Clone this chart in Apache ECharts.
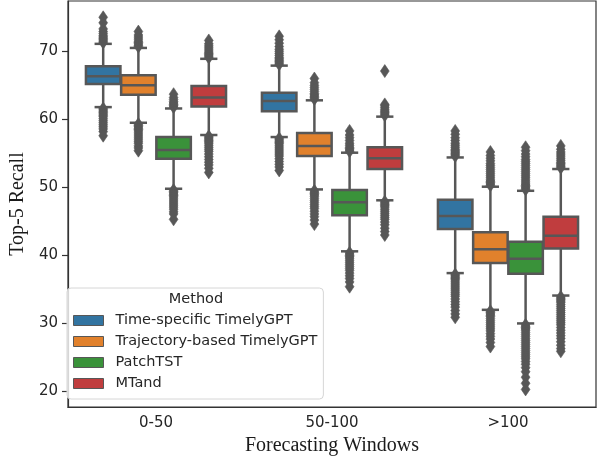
<!DOCTYPE html>
<html>
<head>
<meta charset="utf-8">
<script src="https://cdn.jsdelivr.net/npm/echarts@6/dist/echarts.min.js"></script>
<style>
  html, body { margin: 0; padding: 0; background: #fff; }
  #chart { width: 598px; height: 461px; }
</style>
</head>
<body>
<div id="chart"></div>
<script>
const windows = ['0-50', '50-100', '>100'];
const methods = ['Time-specific TimelyGPT', 'Trajectory-based TimelyGPT', 'PatchTST', 'MTand'];
const yTicks = [20, 30, 40, 50, 60, 70];

// [lower whisker, Q1, median, Q3, upper whisker] per window
const timeSpecificStats = [
  [61.8, 65.2, 66.35, 67.8, 71.1],
  [57.4, 61.2, 62.7, 63.9, 67.9],
  [37.4, 43.9, 45.8, 48.2, 54.4]
];
const trajectoryStats = [
  [59.5, 63.6, 65.0, 66.5, 70.5],
  [49.7, 54.6, 56.1, 58.0, 62.8],
  [32.0, 38.9, 40.9, 43.4, 50.1]
];
const patchTSTStats = [
  [49.8, 54.2, 55.5, 57.4, 61.6],
  [40.6, 45.9, 47.8, 49.6, 55.1],
  [30.0, 37.3, 39.5, 42.0, 49.5]
];
const mtandStats = [
  [57.7, 61.9, 63.2, 64.9, 68.9],
  [48.1, 52.7, 54.3, 55.9, 60.4],
  [34.1, 41.0, 42.9, 45.7, 52.7]
];

// outliers per window
const timeSpecificOutliers = [
  [71.3, 71.5, 71.7, 71.9, 72.1, 72.3, 72.6, 72.9, 73.3, 74.2, 75.0,
   61.6, 61.4, 61.2, 61.0, 60.8, 60.6, 60.4, 60.1, 59.8, 59.5, 59.2, 58.9, 58.6, 58.2, 57.6],
  [68.1, 68.3, 68.5, 68.7, 68.9, 69.1, 69.4, 69.7, 70.0, 70.3, 70.7, 71.2, 71.7, 72.2,
   57.2, 57.0, 56.8, 56.6, 56.4, 56.1, 55.8, 55.5, 55.2, 54.9, 54.6, 54.2, 53.8, 53.4, 53.0, 52.5],
  [54.6, 54.8, 55.0, 55.2, 55.4, 55.6, 55.9, 56.2, 56.5, 56.9, 57.3, 57.8, 58.3,
   37.2, 37.0, 36.8, 36.6, 36.4, 36.1, 35.8, 35.5, 35.2, 34.9, 34.6, 34.3, 34.0, 33.6, 33.2, 32.8, 32.4, 31.9, 31.4, 30.9]
];
const trajectoryOutliers = [
  [70.7, 70.9, 71.1, 71.3, 71.5, 71.8, 72.1, 72.4, 72.9,
   59.3, 59.1, 58.9, 58.7, 58.5, 58.3, 58.0, 57.7, 57.4, 57.1, 56.8, 56.5, 56.1, 55.8, 55.4],
  [63.0, 63.2, 63.4, 63.6, 63.8, 64.1, 64.4, 64.7, 65.0, 65.4, 66.0,
   49.5, 49.3, 49.1, 48.9, 48.7, 48.4, 48.1, 47.8, 47.5, 47.2, 46.9, 46.5, 46.1, 45.7, 45.2, 44.6],
  [50.3, 50.5, 50.7, 50.9, 51.1, 51.4, 51.7, 52.0, 52.3, 52.6, 52.9, 53.2, 53.5, 53.9, 54.3, 54.7, 55.2,
   31.8, 31.6, 31.4, 31.2, 31.0, 30.7, 30.4, 30.1, 29.8, 29.5, 29.2, 28.9, 28.5, 28.1, 27.7, 27.2, 26.6]
];
const patchTSTOutliers = [
  [61.8, 62.0, 62.2, 62.4, 62.6, 62.9, 63.2, 63.7,
   49.6, 49.4, 49.2, 49.0, 48.8, 48.6, 48.3, 48.0, 47.7, 47.4, 47.1, 46.8, 46.4, 46.1, 45.3],
  [55.3, 55.5, 55.7, 55.9, 56.2, 56.5, 56.9, 57.3, 57.7, 58.3,
   40.4, 40.2, 40.0, 39.8, 39.6, 39.3, 39.0, 38.7, 38.4, 38.1, 37.8, 37.4, 37.0, 36.6, 36.1, 35.4],
  [49.7, 49.9, 50.1, 50.3, 50.5, 50.8, 51.1, 51.4, 51.7, 52.0, 52.3, 52.6, 52.9, 53.2, 53.5, 53.8, 54.1, 54.5, 54.9, 55.4, 55.9,
   29.8, 29.6, 29.4, 29.2, 29.0, 28.7, 28.4, 28.1, 27.8, 27.5, 27.2, 26.9, 26.6, 26.3, 26.0, 25.7, 25.4, 25.1, 24.8, 24.4, 24.0, 23.5, 22.9, 22.1, 21.2, 20.3]
];
const mtandOutliers = [
  [69.1, 69.3, 69.5, 69.7, 69.9, 70.2, 70.5, 70.8, 71.1, 71.6,
   57.5, 57.3, 57.1, 56.9, 56.7, 56.5, 56.2, 55.9, 55.6, 55.3, 54.9, 54.5, 54.1, 53.7, 53.3, 52.8, 52.2],
  [60.6, 60.8, 61.0, 61.2, 61.4, 61.7, 62.0, 62.2, 67.1,
   47.9, 47.7, 47.5, 47.3, 47.1, 46.8, 46.5, 46.2, 45.9, 45.6, 45.3, 44.9, 44.5, 44.0, 43.5, 43.0],
  [52.9, 53.1, 53.3, 53.5, 53.7, 54.0, 54.3, 54.6, 54.9, 55.2, 55.6, 56.1,
   33.9, 33.7, 33.5, 33.3, 33.1, 32.8, 32.5, 32.2, 31.9, 31.6, 31.3, 31.0, 30.7, 30.4, 30.1, 29.8, 29.4, 29.0, 28.6, 28.2, 27.8, 27.3, 26.8, 26.3, 25.9]
];

const colors = ['#3274a1', '#e1812c', '#3a923a', '#c03d3e'];
const lineGray = '#575757';
const allStats = [timeSpecificStats, trajectoryStats, patchTSTStats, mtandStats];
const allOutliers = [timeSpecificOutliers, trajectoryOutliers, patchTSTOutliers, mtandOutliers];

// center of box mi inside the category band (seaborn style dodge)
function boxCenter(api, xi, mi) {
  const band = api.size([1, 0])[0];
  return api.coord([xi, 0])[0] + (mi - 1.5) * band * 0.2;
}

function boxRenderer(mi) {
  return function (params, api) {
    const xi = api.value(0);
    const band = api.size([1, 0])[0];
    const bw = band * 0.2 * 0.98;
    const cx = boxCenter(api, xi, mi);
    const y = (k) => api.coord([xi, api.value(k)])[1];
    const yLow = y(1), yQ1 = y(2), yMed = y(3), yQ3 = y(4), yHigh = y(5);
    const ls = { stroke: lineGray, lineWidth: 2.5 };
    return {
      type: 'group',
      children: [
        { type: 'line', shape: { x1: cx, y1: yLow, x2: cx, y2: yQ1 }, style: ls },
        { type: 'line', shape: { x1: cx, y1: yQ3, x2: cx, y2: yHigh }, style: ls },
        { type: 'line', shape: { x1: cx - bw / 4, y1: yLow, x2: cx + bw / 4, y2: yLow }, style: ls },
        { type: 'line', shape: { x1: cx - bw / 4, y1: yHigh, x2: cx + bw / 4, y2: yHigh }, style: ls },
        { type: 'rect', shape: { x: cx - bw / 2, y: yQ3, width: bw, height: yQ1 - yQ3 },
          style: { fill: colors[mi], stroke: lineGray, lineWidth: 2.5 } },
        { type: 'line', shape: { x1: cx - bw / 2, y1: yMed, x2: cx + bw / 2, y2: yMed }, style: ls }
      ]
    };
  };
}

function outlierRenderer(mi) {
  return function (params, api) {
    const xi = api.value(0);
    const cx = boxCenter(api, xi, mi);
    const cy = api.coord([xi, api.value(1)])[1];
    return {
      type: 'polygon',
      shape: { points: [[cx, cy - 6.5], [cx + 4.4, cy], [cx, cy + 6.5], [cx - 4.4, cy]] },
      style: { fill: lineGray, stroke: lineGray, lineWidth: 0.6 }
    };
  };
}

const series = [];
methods.forEach(function (name, mi) {
  series.push({
    name: name,
    type: 'custom',
    renderItem: boxRenderer(mi),
    itemStyle: { color: colors[mi] },
    encode: { x: 0, y: [1, 2, 3, 4, 5] },
    data: allStats[mi].map((s, xi) => [xi].concat(s))
  });
});
methods.forEach(function (name, mi) {
  const pts = [];
  allOutliers[mi].forEach((list, xi) => list.forEach(v => pts.push([xi, v])));
  series.push({
    name: name + ' outliers',
    type: 'custom',
    renderItem: outlierRenderer(mi),
    itemStyle: { color: lineGray },
    encode: { x: 0, y: 1 },
    data: pts
  });
});

const chart = echarts.init(document.getElementById('chart'), null, { renderer: 'canvas' });
chart.setOption({
  animation: false,
  backgroundColor: '#fff',
  grid: {
    left: 57, right: 2, top: 1, bottom: 51,
    show: true, borderColor: '#333', borderWidth: 1.2, backgroundColor: 'transparent'
  },
  xAxis: {
    type: 'category',
    data: windows,
    boundaryGap: true,
    axisLine: { lineStyle: { color: '#333', width: 1.2 } },
    axisTick: { alignWithLabel: true, length: 6, lineStyle: { color: '#333', width: 1.2 } },
    axisLabel: { color: '#262626', fontFamily: 'DejaVu Sans', fontSize: 15, margin: 9 },
    splitLine: { show: false },
    name: 'Forecasting Windows',
    nameLocation: 'middle',
    nameGap: 24,
    nameTextStyle: { color: '#1a1a1a', fontFamily: 'Liberation Serif', fontSize: 20 }
  },
  yAxis: {
    type: 'value',
    min: 17.7,
    max: 77.4,
    axisLine: { show: true, lineStyle: { color: '#333', width: 1.2 } },
    axisTick: { show: true, length: 6, customValues: yTicks, lineStyle: { color: '#333', width: 1.2 } },
    axisLabel: { customValues: yTicks, color: '#262626', fontFamily: 'DejaVu Sans', fontSize: 15, margin: 10 },
    splitLine: { show: false },
    name: 'Top-5 Recall',
    nameLocation: 'middle',
    nameGap: 30,
    nameTextStyle: { color: '#1a1a1a', fontFamily: 'Liberation Serif', fontSize: 20 }
  },
  legend: {
    data: methods,
    orient: 'vertical',
    left: 67,
    top: 288,
    icon: 'rect',
    itemWidth: 30,
    itemHeight: 10,
    itemGap: 6,
    padding: [25, 6, 8, 6],
    backgroundColor: 'rgba(255,255,255,0.8)',
    borderColor: '#d6d6d6',
    borderWidth: 1,
    borderRadius: 4,
    itemStyle: { borderColor: lineGray, borderWidth: 1 },
    textStyle: { color: '#262626', fontFamily: 'DejaVu Sans', fontSize: 14.5, lineHeight: 14, padding: [0, 0, 0, 7] }
  },
  graphic: [{
    type: 'text',
    x: 196,
    y: 299,
    z: 100,
    style: {
      text: 'Method',
      fill: '#262626',
      font: '14.5px "DejaVu Sans"',
      textAlign: 'center',
      textVerticalAlign: 'middle'
    }
  }],
  series: series
});
window.addEventListener('resize', function () {
  chart.resize();
});
</script>
</body>
</html>
